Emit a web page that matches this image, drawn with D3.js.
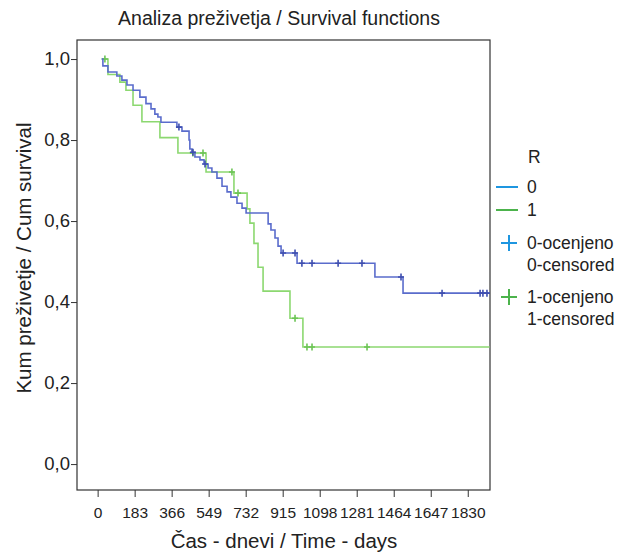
<!DOCTYPE html>
<html><head><meta charset="utf-8">
<script src="https://cdn.jsdelivr.net/npm/d3@7"></script>
<style>body{margin:0;background:#fff;} text{font-family:"Liberation Sans",Arial,sans-serif;fill:#222;}</style>
</head><body><svg id="c" width="618" height="552"></svg>
<script>
// ---- data ----
const xTicks = [0,183,366,549,732,915,1098,1281,1464,1647,1830];
const yTicks = [0,0.2,0.4,0.6,0.8,1.0];
const groups = ["0","1"];
// group 0 (blue)
const t0Times = [20,26,51,95,120,145,175,209,239,264,283,298,313,392,417,452,456,466,481,506,526,546,565,590,615,640,659,689,714,734,843,857,877,892,907,986,1371,1510,1938];
const t0Surv  = [1.0,0.983,0.968,0.958,0.948,0.936,0.923,0.906,0.890,0.877,0.864,0.857,0.844,0.832,0.822,0.800,0.778,0.770,0.758,0.751,0.741,0.731,0.721,0.706,0.686,0.672,0.659,0.644,0.632,0.620,0.593,0.578,0.558,0.538,0.521,0.496,0.462,0.422,0.422];
const t0Censored = [402,471,531,917,976,1010,1060,1189,1307,1500,1703,1891,1905,1925];
// group 1 (green)
const t1Times = [20,51,110,140,175,219,308,397,536,674,739,753,773,793,818,951,1015,1938];
const t1Surv  = [1.0,0.962,0.943,0.923,0.886,0.845,0.806,0.768,0.721,0.669,0.630,0.595,0.545,0.486,0.427,0.360,0.289,0.289];
const t1Censored = [36,471,521,664,694,976,1035,1060,1332];

const title = "Analiza preživetja / Survival functions";
const xTitle = "Čas - dnevi / Time - days";
const yTitle = "Kum preživetje / Cum survival";

// ---- drawing ----
const svg = d3.select("#c");
const L=77,R=490,T=40,B=490;
const x = d3.scaleLinear().domain([-102,1940]).range([L,R]);
const y = d3.scaleLinear().domain([-0.064,1.047]).range([B,T]);

svg.append("text").attr("x",279).attr("y",25).attr("text-anchor","middle").style("font-size","19.5px").text(title);

// frame
svg.append("rect").attr("x",L).attr("y",T).attr("width",R-L).attr("height",B-T)
  .attr("fill","none").attr("stroke","#333").attr("stroke-width",1.2);

const fmt = d => d3.format(".1f")(d).replace(".",",");
const yAx = svg.append("g").attr("transform",`translate(${L},0)`)
  .call(d3.axisLeft(y).tickValues(yTicks).tickSize(6).tickPadding(1).tickFormat(fmt));
yAx.select(".domain").remove();
yAx.selectAll("line").attr("stroke","#333");
yAx.selectAll("text").style("font-size","18.5px").style("font-family","Liberation Sans, Arial, sans-serif").attr("fill","#222");

const xAx = svg.append("g").attr("transform",`translate(0,${B})`)
  .call(d3.axisBottom(x).tickValues(xTicks).tickSize(7).tickPadding(10).tickFormat(d3.format("d")));
xAx.select(".domain").remove();
xAx.selectAll("line").attr("stroke","#333");
xAx.selectAll("text").style("font-size","15.5px").style("font-family","Liberation Sans, Arial, sans-serif").attr("fill","#222");

svg.append("text").attr("x",284).attr("y",548).attr("text-anchor","middle").style("font-size","20.5px").text(xTitle);
svg.append("text").attr("transform","translate(31,258) rotate(-90)").attr("text-anchor","middle").style("font-size","20.5px").text(yTitle);

const line = d3.line().x(d=>x(d[0])).y(d=>y(d[1])).curve(d3.curveStepAfter);
function survAt(times,surv,t){let s=surv[0];for(let i=0;i<times.length;i++){if(times[i]<=t)s=surv[i];}return s;}

const series = [
  {times:t0Times,surv:t0Surv,cens:t0Censored,color:"#5a6ccc",mark:"#3f4fb0"},
  {times:t1Times,surv:t1Surv,cens:t1Censored,color:"#8cd870",mark:"#6cc455"}
];
series.slice().reverse().forEach(s=>{
  const pts = s.times.map((t,i)=>[t,s.surv[i]]);
  svg.append("path").attr("d",line(pts)).attr("fill","none").attr("stroke",s.color).attr("stroke-width",1.6);
  s.cens.forEach(c=>{
    const cx=x(c), cy=y(survAt(s.times,s.surv,c));
    svg.append("path").attr("d",`M${cx-3},${cy}H${cx+3}M${cx},${cy-3.5}V${cy+3.5}`)
      .attr("stroke",s.mark).attr("stroke-width",1.6);
  });
});

// legend
const lg = svg.append("g");
lg.append("text").attr("x",528).attr("y",163).style("font-size","17.5px").text("R");
const legColors = ["#1e96e0","#4cb34c"];
groups.forEach((g,i)=>{
  const yy = 187 + i*23;
  lg.append("line").attr("x1",496).attr("x2",518).attr("y1",yy).attr("y2",yy).attr("stroke",legColors[i]).attr("stroke-width",2);
  lg.append("text").attr("x",527).attr("y",yy+6).style("font-size","17.5px").text(g);
  const py = 243 + i*54;
  lg.append("path").attr("d",`M501,${py}H517M509,${py-8}V${py+8}`).attr("stroke",legColors[i]).attr("stroke-width",2);
  lg.append("text").attr("x",527).attr("y",py+6).style("font-size","17.5px").text(g+"-ocenjeno");
  lg.append("text").attr("x",527).attr("y",py+28).style("font-size","17.5px").text(g+"-censored");
});
</script></body></html>
